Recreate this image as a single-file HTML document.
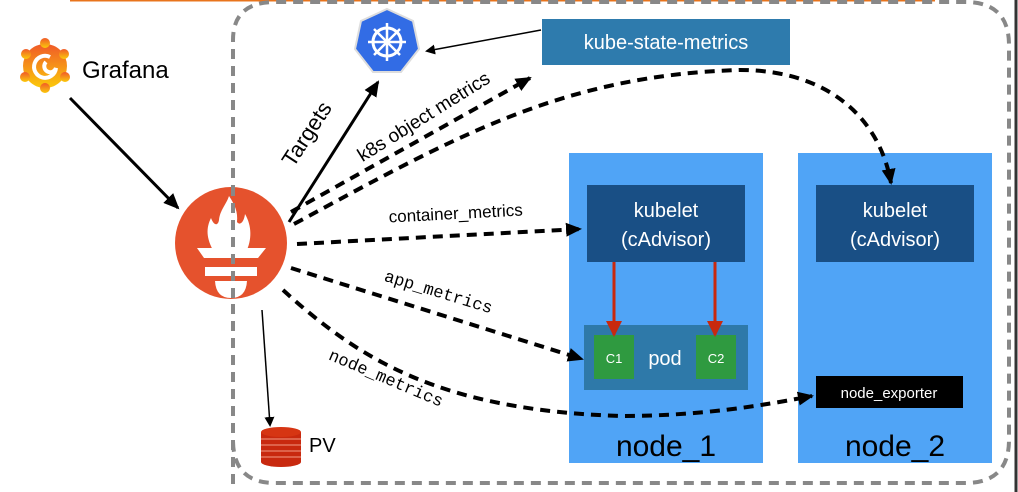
<!DOCTYPE html>
<html><head><meta charset="utf-8"><style>
html,body{margin:0;padding:0;background:#fff;width:1018px;height:492px;overflow:hidden}
svg{display:block}
text{font-family:"Liberation Sans",sans-serif}
.m{font-family:"Liberation Mono",monospace}
</style></head><body>
<svg width="1018" height="492" viewBox="0 0 1018 492" xmlns="http://www.w3.org/2000/svg">
<defs>
<marker id="ah" markerWidth="10" markerHeight="10" refX="8" refY="5" orient="auto" markerUnits="userSpaceOnUse"><path d="M0,0 L10,5 L0,10 z" fill="#000"/></marker>
<marker id="ahb" markerWidth="16" markerHeight="16" refX="14" refY="8" orient="auto" markerUnits="userSpaceOnUse"><path d="M0,1 L16,8 L0,15 z" fill="#000"/></marker>
<marker id="ahr" markerWidth="16" markerHeight="16" refX="14" refY="8" orient="auto" markerUnits="userSpaceOnUse"><path d="M0,0 L16,8 L0,16 z" fill="#c8290f"/></marker>
<linearGradient id="gf" x1="0" y1="0" x2="0" y2="1"><stop offset="0" stop-color="#f05a28"/><stop offset="1" stop-color="#fbca0a"/></linearGradient>
</defs>
<line x1="70" y1="0.5" x2="935" y2="0.5" stroke="#e8741c" stroke-width="2"/>
<line x1="1016" y1="0" x2="1016" y2="492" stroke="#333" stroke-width="3"/>
<path d="M233,484 L233,40 Q233,2 275,2 L965,2 Q1009,2 1009,45 L1009,440 Q1009,483 965,483 L275,483 Q233,483 233,440" fill="none" stroke="#888" stroke-width="4" stroke-dasharray="10,7"/>
<rect x="569" y="153" width="194" height="310" fill="#50a4f6"/>
<rect x="798" y="153" width="194" height="310" fill="#50a4f6"/>
<rect x="587" y="185" width="158" height="77" fill="#194f85"/>
<rect x="816" y="185" width="158" height="77" fill="#194f85"/>
<text x="666" y="217" font-size="20" fill="#fff" text-anchor="middle">kubelet</text>
<text x="666" y="246" font-size="20" fill="#fff" text-anchor="middle">(cAdvisor)</text>
<text x="895" y="217" font-size="20" fill="#fff" text-anchor="middle">kubelet</text>
<text x="895" y="246" font-size="20" fill="#fff" text-anchor="middle">(cAdvisor)</text>
<rect x="584" y="325" width="164" height="65" fill="#2e79a9"/>
<rect x="594" y="335" width="40" height="44" fill="#2f9a40"/>
<rect x="696" y="335" width="40" height="44" fill="#2f9a40"/>
<text x="614" y="363" font-size="13" fill="#fff" text-anchor="middle">C1</text>
<text x="716" y="363" font-size="13" fill="#fff" text-anchor="middle">C2</text>
<text x="665" y="365" font-size="20" fill="#fff" text-anchor="middle">pod</text>
<line x1="614" y1="262" x2="614" y2="335" stroke="#c8290f" stroke-width="3" marker-end="url(#ahr)"/>
<line x1="715" y1="262" x2="715" y2="335" stroke="#c8290f" stroke-width="3" marker-end="url(#ahr)"/>
<rect x="816" y="376" width="147" height="32" fill="#000"/>
<text x="889" y="398" font-size="15" fill="#fff" text-anchor="middle">node_exporter</text>
<text x="666" y="456" font-size="30" fill="#000" text-anchor="middle">node_1</text>
<text x="895" y="456" font-size="30" fill="#000" text-anchor="middle">node_2</text>
<rect x="542" y="19" width="248" height="46" fill="#2e7bad"/>
<text x="666" y="49" font-size="20" fill="#fff" text-anchor="middle">kube-state-metrics</text>
<line x1="541" y1="30" x2="427" y2="51" stroke="#000" stroke-width="1.5" marker-end="url(#ah)"/>
<polygon points="387,9 413,21 419,49 401,72 373,72 355,49 361,21" fill="#326ce5" stroke="#ddd" stroke-width="2"/>
<circle cx="387" cy="42" r="14" fill="none" stroke="#fff" stroke-width="3"/>
<g stroke="#fff" stroke-width="2.5"><line x1="387" y1="23" x2="387" y2="61"/><line x1="368" y1="42" x2="406" y2="42"/><line x1="374" y1="29" x2="400" y2="55"/><line x1="400" y1="29" x2="374" y2="55"/></g>
<circle cx="387" cy="42" r="3" fill="#fff"/>
<circle cx="45" cy="66" r="22" fill="url(#gf)"/>
<g fill="url(#gf)"><circle cx="45" cy="43" r="5"/><circle cx="64" cy="54" r="5"/><circle cx="65" cy="77" r="5"/><circle cx="45" cy="88" r="5"/><circle cx="25" cy="77" r="5"/><circle cx="26" cy="54" r="5"/></g>
<path d="M50,57 A11,11 0 1 0 56,68 A6,6 0 1 1 46,62" fill="none" stroke="#fff" stroke-width="4"/>
<text x="82" y="78" font-size="24" fill="#000">Grafana</text>
<line x1="70" y1="98" x2="178" y2="208" stroke="#000" stroke-width="3" marker-end="url(#ahb)"/>
<!-- prometheus -->
<circle cx="231" cy="243" r="56" fill="#e5522d"/>
<path d="M214,252 C206,238 206,228 211,218 C214,226 218,226 219,220 C220,210 226,205 229,196 C235,205 238,212 237,222 C240,226 244,222 245,214 C252,226 252,240 246,252 Z" fill="#fff"/>
<path d="M197,248 L266,248 L258,258 L204,258 Z" fill="#fff"/>
<rect x="205" y="267" width="52" height="9" fill="#fff"/>
<path d="M215,281 L247,281 Q246,298 231,298 Q216,298 215,281 Z" fill="#fff"/>
<line x1="233" y1="186" x2="233" y2="300" stroke="#888" stroke-width="4" stroke-dasharray="10,7"/>
<line x1="262" y1="310" x2="270" y2="425" stroke="#000" stroke-width="1.5" marker-end="url(#ah)"/>
<rect x="261" y="432" width="40" height="30" fill="#c8290f"/>
<ellipse cx="281" cy="462" rx="20" ry="5" fill="#c8290f"/>
<ellipse cx="281" cy="432" rx="20" ry="5" fill="#d63513"/>
<g stroke="#f29b85" stroke-width="1"><line x1="261" y1="439" x2="301" y2="439"/><line x1="261" y1="445" x2="301" y2="445"/><line x1="261" y1="451" x2="301" y2="451"/><line x1="261" y1="457" x2="301" y2="457"/></g>
<text x="309" y="452" font-size="20" fill="#000">PV</text>
<line x1="289" y1="222" x2="378" y2="82" stroke="#000" stroke-width="3" marker-end="url(#ahb)"/>
<text transform="translate(313,138) rotate(-57)" font-size="22" text-anchor="middle" fill="#000">Targets</text>
<g fill="none" stroke="#000" stroke-width="4" stroke-dasharray="10,7">
<path d="M291,212 L530,78" marker-end="url(#ahb)"/>
<path d="M294,224 C450,140 560,75 740,70 C830,70 880,120 891,183" marker-end="url(#ahb)"/>
<path d="M297,244 L580,229" marker-end="url(#ahb)"/>
<path d="M291,268 L582,359" marker-end="url(#ahb)"/>
<path d="M283,290 C360,360 440,410 620,416 C700,416 760,406 812,396" marker-end="url(#ahb)"/>
</g>
<text transform="translate(427,122) rotate(-32)" font-size="19" text-anchor="middle" fill="#000">k8s object metrics</text>
<text transform="translate(456,219) rotate(-3)" font-size="17" text-anchor="middle" fill="#000">container_metrics</text>
<text class="m" transform="translate(437,297) rotate(17)" font-size="17" text-anchor="middle" fill="#000">app_metrics</text>
<text class="m" transform="translate(384,383) rotate(23)" font-size="17" text-anchor="middle" fill="#000">node_metrics</text>
</svg>
</body></html>
